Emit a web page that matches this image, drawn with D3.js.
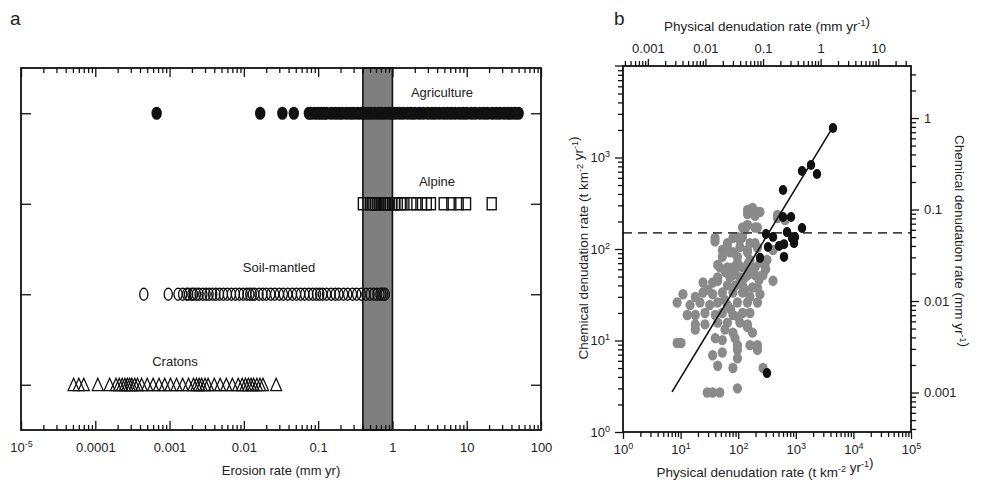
<!DOCTYPE html>
<html>
<head>
<meta charset="utf-8">
<script src="https://cdn.jsdelivr.net/npm/d3@7"></script>
<style>
  body { margin: 0; background: #fff; }
  svg { display: block; font-family: "Liberation Sans", Arial, sans-serif; }
  .axis text { font-size: 13px; fill: #222; }
  .axis line { stroke: #111; stroke-width: 1.3; }
  .axis path { display: none; }
</style>
</head>
<body>
<svg id="chart"></svg>
<script>
// ---------- data: panel a (erosion rate, mm/yr) ----------
let rowNames = ["Agriculture", "Alpine", "Soil-mantled", "Cratons"];

let agriculture = [0.00067, 0.0166, 0.033, 0.047, 0.075, 0.08, 0.09, 0.1, 0.11, 0.12, 0.13, 0.15,
  0.17, 0.19, 0.21, 0.24, 0.27, 0.3, 0.34, 0.38, 0.42, 0.47, 0.52, 0.58, 0.65, 0.72, 0.8, 0.9,
  1.0, 1.1, 1.25, 1.4, 1.6, 1.8, 2.0, 2.3, 2.6, 3.0, 3.4, 3.8, 4.3, 4.9, 5.5, 6.2, 7, 8, 9, 10,
  11.5, 13, 15, 17, 19, 22, 25, 28, 32, 36, 40, 45, 50];

let alpine = [0.4, 0.5, 0.54, 0.58, 0.62, 0.66, 0.7, 0.75, 0.8, 0.86, 0.92, 1.0, 1.08, 1.18,
  1.3, 1.45, 1.8, 2.1, 2.5, 2.9, 3.3, 4.9, 6.2, 7.8, 9.8, 21.7];

let soilMantled = [0.00045, 0.00096, 0.0013, 0.0015, 0.0017, 0.0018, 0.002, 0.0021, 0.0023,
  0.0025, 0.0028, 0.0031, 0.0034, 0.0038, 0.0042, 0.0047, 0.0053, 0.006, 0.0068, 0.0077, 0.0087,
  0.0098, 0.011, 0.012, 0.013, 0.014, 0.016, 0.018, 0.02, 0.023, 0.026, 0.03, 0.034, 0.039,
  0.045, 0.051, 0.058, 0.066, 0.075, 0.085, 0.095, 0.105, 0.115, 0.13, 0.15, 0.17, 0.19, 0.22,
  0.25, 0.29, 0.33, 0.38, 0.44, 0.5, 0.56, 0.62, 0.68, 0.72, 0.76, 0.8];

let cratons = [5.1e-5, 6e-5, 7e-5, 1.08e-4, 1.56e-4, 1.9e-4, 2.1e-4, 2.3e-4, 2.5e-4, 2.7e-4,
  2.9e-4, 3.1e-4, 3.4e-4, 3.7e-4, 4.2e-4, 5e-4, 6e-4, 7.2e-4, 8.6e-4, 0.00103, 0.00124, 0.0015,
  0.0018, 0.0021, 0.0023, 0.0025, 0.0027, 0.003, 0.0033, 0.004, 0.0048, 0.0058, 0.007, 0.0084,
  0.0095, 0.0105, 0.0115, 0.0125, 0.0135, 0.015, 0.0165, 0.0181, 0.0272];

// shaded band of erosion rates (mm/yr)
let band = [0.4, 1];

let erosionTicks = [1e-5, 1e-4, 1e-3, 1e-2, 1e-1, 1, 10, 100];
let erosionLabels = ["10|-5", "0.0001", "0.001", "0.01", "0.1", "1", "10", "100"];

// ---------- data: panel b (t km-2 yr-1) ----------
// [physical, chemical]
let grayPoints = [
  [177, 267], [216, 254], [196, 230], [145, 183], [131, 161], [196, 172], [481, 235], [481, 218],
  [97, 135], [119, 135], [39.6, 132], [145, 267], [177, 281], [239, 254], [145, 241], [650, 207],
  [216, 172], [119, 172], [39.6, 121], [81, 132], [65, 116], [53, 97.5], [81, 92], [107, 105],
  [160, 116], [216, 103], [145, 92], [97, 82], [53, 82], [44, 67], [65, 63], [97, 71], [119, 63],
  [196, 63], [292, 67], [402, 97.5], [44, 45], [81, 52], [131, 49], [196, 52], [270, 52], [402, 45],
  [65, 111], [107, 125], [196, 116], [72, 92], [145, 97.5], [48, 63], [81, 63], [160, 76], [239, 71],
  [316, 76], [44, 49], [72, 49], [107, 49], [145, 52], [24.5, 43], [36, 43], [65, 40], [119, 40],
  [177, 38], [216, 38], [11, 32], [18, 30], [24.5, 33.5], [36, 32], [53, 33.5], [81, 33.5],
  [119, 33.5], [160, 30], [239, 32], [8.7, 26], [14.6, 24.4], [21.7, 26], [32, 24.4], [44, 26],
  [65, 24.4], [97, 26], [145, 26], [216, 26], [13, 19], [18, 19], [26.5, 20], [40, 19], [53, 20],
  [81, 19], [119, 20], [160, 20], [18, 15], [26.5, 15], [44, 15.7], [65, 15.7], [107, 15.7],
  [145, 15], [8.7, 9.4], [10.2, 9.4], [18, 13.2], [40, 10.6], [53, 10.1], [59, 13.2], [81, 12.2],
  [88, 10.6], [145, 14], [177, 12.2], [160, 8.9], [216, 8.9], [216, 7.9], [53, 7.4], [36, 6.9],
  [97, 7.9], [97, 6.4], [97, 8.9], [44, 5.3], [81, 5], [270, 5], [97, 3], [29, 2.7], [36, 2.7],
  [48, 2.7], [30, 36], [58, 28], [90, 40], [130, 36], [74, 22], [100, 18], [60, 56], [88, 58],
  [150, 70], [170, 60], [230, 46], [300, 60]
];

let blackPoints = [
  [4425, 2100], [1836, 828], [1282, 712], [2333, 660], [600, 441], [600, 224], [826, 224],
  [1282, 170], [704, 153], [304, 146], [402, 135], [968, 135], [329, 105], [511, 108], [624, 113],
  [859, 132], [931, 116], [239, 80], [624, 82], [316, 4.4]
];

// fitted line end points and reference level (t km-2 yr-1)
let fitLine = [[7.1, 2.74], [4400, 2150]];
let referenceLevel = 150;

// 1 mm/yr of rock = 2700 t km-2 yr-1
let rockDensity = 2700;

let decadesB = [1, 10, 100, 1000, 10000, 100000];
let mmTicksTop = [0.001, 0.01, 0.1, 1, 10];
let mmTicksRight = [0.001, 0.01, 0.1, 1];

// ---------- layout ----------
let svg = d3.select("#chart").attr("width", 997).attr("height", 485);

function translate(x, y) {
  return "translate(" + x + "," + y + ")";
}

function minorTicks(lo, hi) {
  let out = [];
  for (let e = Math.floor(Math.log10(lo)); e <= Math.ceil(Math.log10(hi)); e++) {
    for (let m = 2; m <= 9; m++) {
      let v = m * Math.pow(10, e);
      if (v >= lo * 0.999 && v <= hi * 1.001) out.push(v);
    }
  }
  return out;
}

function supLabel(sel, base, sup) {
  sel.text(base);
  sel.append("tspan").attr("dy", -5).attr("font-size", "9px").text(sup);
}

// ================= panel a =================
let a = { left: 21, right: 541, top: 68, bottom: 430 };

let xA = d3.scaleLog().domain([1e-5, 100]).range([a.left, a.right]);
let yA = d3.scaleLinear().domain([0.5, 4.5]).range([a.top, a.bottom]);

let panelA = svg.append("g").attr("id", "panelA");

panelA.append("rect")
  .attr("x", xA(band[0]))
  .attr("y", a.top)
  .attr("width", xA(band[1]) - xA(band[0]))
  .attr("height", a.bottom - a.top)
  .attr("fill", "#7f7f7f")
  .attr("stroke", "#111")
  .attr("stroke-width", 1.6);

// agriculture: filled ellipses
panelA.append("g").selectAll("ellipse")
  .data(agriculture)
  .join("ellipse")
  .attr("cx", d => xA(d))
  .attr("cy", yA(1))
  .attr("rx", 5.2)
  .attr("ry", 6.6)
  .attr("fill", "#111");

// alpine: open squares
panelA.append("g").selectAll("rect")
  .data(alpine)
  .join("rect")
  .attr("x", d => xA(d) - 4.5)
  .attr("y", yA(2) - 6)
  .attr("width", 9)
  .attr("height", 12)
  .attr("fill", "none")
  .attr("stroke", "#111")
  .attr("stroke-width", 1.4);

// soil-mantled: open circles
panelA.append("g").selectAll("ellipse")
  .data(soilMantled)
  .join("ellipse")
  .attr("cx", d => xA(d))
  .attr("cy", yA(3))
  .attr("rx", 4.1)
  .attr("ry", 6)
  .attr("fill", "none")
  .attr("stroke", "#111")
  .attr("stroke-width", 1.3);

// cratons: open triangles
panelA.append("g").selectAll("path")
  .data(cratons)
  .join("path")
  .attr("transform", d => translate(xA(d), yA(4)))
  .attr("d", "M0,-6.5L5.5,5.8L-5.5,5.8Z")
  .attr("fill", "none")
  .attr("stroke", "#111")
  .attr("stroke-width", 1.3);

// row labels
let rowLabelPos = [[442, 97], [437, 186], [279, 272], [175, 366]];
panelA.append("g").selectAll("text")
  .data(rowNames)
  .join("text")
  .attr("x", (d, i) => rowLabelPos[i][0])
  .attr("y", (d, i) => rowLabelPos[i][1])
  .attr("text-anchor", "middle")
  .attr("font-size", "13px")
  .attr("fill", "#222")
  .text(d => d);

// axes (ticks inward)
let minorA = minorTicks(1e-5, 100);

panelA.append("g").attr("class", "axis")
  .attr("transform", translate(0, a.bottom))
  .call(d3.axisBottom(xA).tickValues(minorA).tickSize(-5).tickFormat(""));

panelA.append("g").attr("class", "axis")
  .attr("transform", translate(0, a.top))
  .call(d3.axisTop(xA).tickValues(minorA).tickSize(-5).tickFormat(""));

panelA.append("g").attr("class", "axis")
  .attr("transform", translate(0, a.top))
  .call(d3.axisTop(xA).tickValues(erosionTicks).tickSize(-9).tickFormat(""));

let axA = panelA.append("g").attr("class", "axis")
  .attr("transform", translate(0, a.bottom))
  .call(d3.axisBottom(xA).tickValues(erosionTicks).tickSize(-9).tickPadding(13).tickFormat(""));

axA.selectAll("text").each(function(d, i) {
  let parts = erosionLabels[i].split("|");
  if (parts.length > 1) supLabel(d3.select(this), parts[0], parts[1]);
  else d3.select(this).text(parts[0]);
});

panelA.append("g").attr("class", "axis")
  .call(d3.axisRight(yA).tickValues([1, 2, 3, 4]).tickSize(10).tickFormat(""))
  .attr("transform", translate(a.left, 0));

panelA.append("g").attr("class", "axis")
  .call(d3.axisLeft(yA).tickValues([1, 2, 3, 4]).tickSize(10).tickFormat(""))
  .attr("transform", translate(a.right, 0));

panelA.append("rect")
  .attr("x", a.left).attr("y", a.top)
  .attr("width", a.right - a.left).attr("height", a.bottom - a.top)
  .attr("fill", "none").attr("stroke", "#111").attr("stroke-width", 1.8);

panelA.append("text")
  .attr("x", 281)
  .attr("y", 475)
  .attr("text-anchor", "middle")
  .attr("font-size", "13px")
  .attr("fill", "#222")
  .text("Erosion rate (mm yr)");

svg.append("text").attr("x", 10).attr("y", 25).attr("font-size", "19px").attr("fill", "#222").text("a");

// ================= panel b =================
let b = { left: 623, right: 911, top: 66, bottom: 432 };

let xB = d3.scaleLog().domain([1, 1e5]).range([b.left, b.right]);
let yB = d3.scaleLog().domain([1, 1e4]).range([b.bottom, b.top]);
let xBmm = d3.scaleLog().domain([1 / rockDensity, 1e5 / rockDensity]).range([b.left, b.right]);
let yBmm = d3.scaleLog().domain([1 / rockDensity, 1e4 / rockDensity]).range([b.bottom, b.top]);

let panelB = svg.append("g").attr("id", "panelB");

panelB.append("g").selectAll("ellipse")
  .data(grayPoints)
  .join("ellipse")
  .attr("cx", d => xB(d[0]))
  .attr("cy", d => yB(d[1]))
  .attr("rx", 4.6)
  .attr("ry", 5.2)
  .attr("fill", "#8a8a8a");

panelB.append("line")
  .attr("x1", b.left).attr("x2", b.right)
  .attr("y1", yB(referenceLevel)).attr("y2", yB(referenceLevel))
  .attr("stroke", "#444")
  .attr("stroke-width", 1.6)
  .attr("stroke-dasharray", "9,6");

panelB.append("line")
  .attr("x1", xB(fitLine[0][0])).attr("y1", yB(fitLine[0][1]))
  .attr("x2", xB(fitLine[1][0])).attr("y2", yB(fitLine[1][1]))
  .attr("stroke", "#111")
  .attr("stroke-width", 1.6);

panelB.append("g").selectAll("ellipse")
  .data(blackPoints)
  .join("ellipse")
  .attr("cx", d => xB(d[0]))
  .attr("cy", d => yB(d[1]))
  .attr("rx", 4.2)
  .attr("ry", 5)
  .attr("fill", "#111");

// bottom axis (t km-2 yr-1)
panelB.append("g").attr("class", "axis")
  .attr("transform", translate(0, b.bottom))
  .call(d3.axisBottom(xB).tickValues(minorTicks(1, 1e5)).tickSize(5).tickFormat(""));

let axBb = panelB.append("g").attr("class", "axis")
  .attr("transform", translate(0, b.bottom))
  .call(d3.axisBottom(xB).tickValues(decadesB).tickSize(7).tickPadding(6).tickFormat(""));
axBb.selectAll("text").each(function(d) {
  supLabel(d3.select(this), "10", String(Math.round(Math.log10(d))));
});

// left axis (t km-2 yr-1)
panelB.append("g").attr("class", "axis")
  .attr("transform", translate(b.left, 0))
  .call(d3.axisLeft(yB).tickValues(minorTicks(1, 1e4)).tickSize(5).tickFormat(""));

let axBl = panelB.append("g").attr("class", "axis")
  .attr("transform", translate(b.left, 0))
  .call(d3.axisLeft(yB).tickValues(decadesB.slice(0, 4)).tickSize(8).tickPadding(5).tickFormat(""));
axBl.selectAll("text").each(function(d) {
  supLabel(d3.select(this), "10", String(Math.round(Math.log10(d))));
});
panelB.append("line")
  .attr("x1", b.left - 8).attr("x2", b.left)
  .attr("y1", yB(1e4)).attr("y2", yB(1e4))
  .attr("stroke", "#111").attr("stroke-width", 1.3);

// top axis (mm/yr)
panelB.append("g").attr("class", "axis")
  .attr("transform", translate(0, b.top))
  .call(d3.axisTop(xBmm).tickValues(minorTicks(1 / rockDensity, 1e5 / rockDensity)).tickSize(5).tickFormat(""));

panelB.append("g").attr("class", "axis")
  .attr("transform", translate(0, b.top))
  .call(d3.axisTop(xBmm).tickValues(mmTicksTop).tickSize(7).tickPadding(6).tickFormat(d => String(d)));

// right axis (mm/yr)
panelB.append("g").attr("class", "axis")
  .attr("transform", translate(b.right, 0))
  .call(d3.axisRight(yBmm).tickValues(minorTicks(1 / rockDensity, 1e4 / rockDensity)).tickSize(5).tickFormat(""));

panelB.append("g").attr("class", "axis")
  .attr("transform", translate(b.right, 0))
  .call(d3.axisRight(yBmm).tickValues(mmTicksRight).tickSize(8).tickPadding(5).tickFormat(d => String(d)));

panelB.append("rect")
  .attr("x", b.left).attr("y", b.top)
  .attr("width", b.right - b.left).attr("height", b.bottom - b.top)
  .attr("fill", "none").attr("stroke", "#111").attr("stroke-width", 1.8);

// titles
function titleWithSups(sel, pieces) {
  pieces.forEach(p => {
    if (p.sup) {
      sel.append("tspan").attr("dy", -5).attr("font-size", "9px").text(p.t);
      sel.append("tspan").attr("dy", 5).text("");
    } else {
      sel.append("tspan").text(p.t);
    }
  });
}

let topTitle = panelB.append("text")
  .attr("x", 767).attr("y", 31)
  .attr("text-anchor", "middle").attr("font-size", "13.5px").attr("fill", "#222");
titleWithSups(topTitle, [{ t: "Physical denudation rate (mm yr" }, { t: "-1", sup: true }, { t: ")" }]);

let bottomTitle = panelB.append("text")
  .attr("x", 765).attr("y", 477)
  .attr("text-anchor", "middle").attr("font-size", "13.5px").attr("fill", "#222");
titleWithSups(bottomTitle, [{ t: "Physical denudation rate (t km" }, { t: "-2", sup: true },
  { t: " yr" }, { t: "-1", sup: true }, { t: ")" }]);

let leftTitle = panelB.append("text")
  .attr("transform", translate(588, 248) + " rotate(-90)")
  .attr("text-anchor", "middle").attr("font-size", "13.5px").attr("fill", "#222");
titleWithSups(leftTitle, [{ t: "Chemical denudation rate (t km" }, { t: "-2", sup: true },
  { t: " yr" }, { t: "-1", sup: true }, { t: ")" }]);

let rightTitle = panelB.append("text")
  .attr("transform", translate(955, 241) + " rotate(90)")
  .attr("text-anchor", "middle").attr("font-size", "13.5px").attr("fill", "#222");
titleWithSups(rightTitle, [{ t: "Chemical denudation rate (mm yr" }, { t: "-1", sup: true }, { t: ")" }]);

svg.append("text").attr("x", 614).attr("y", 25).attr("font-size", "19px").attr("fill", "#222").text("b");
</script>
</body>
</html>
